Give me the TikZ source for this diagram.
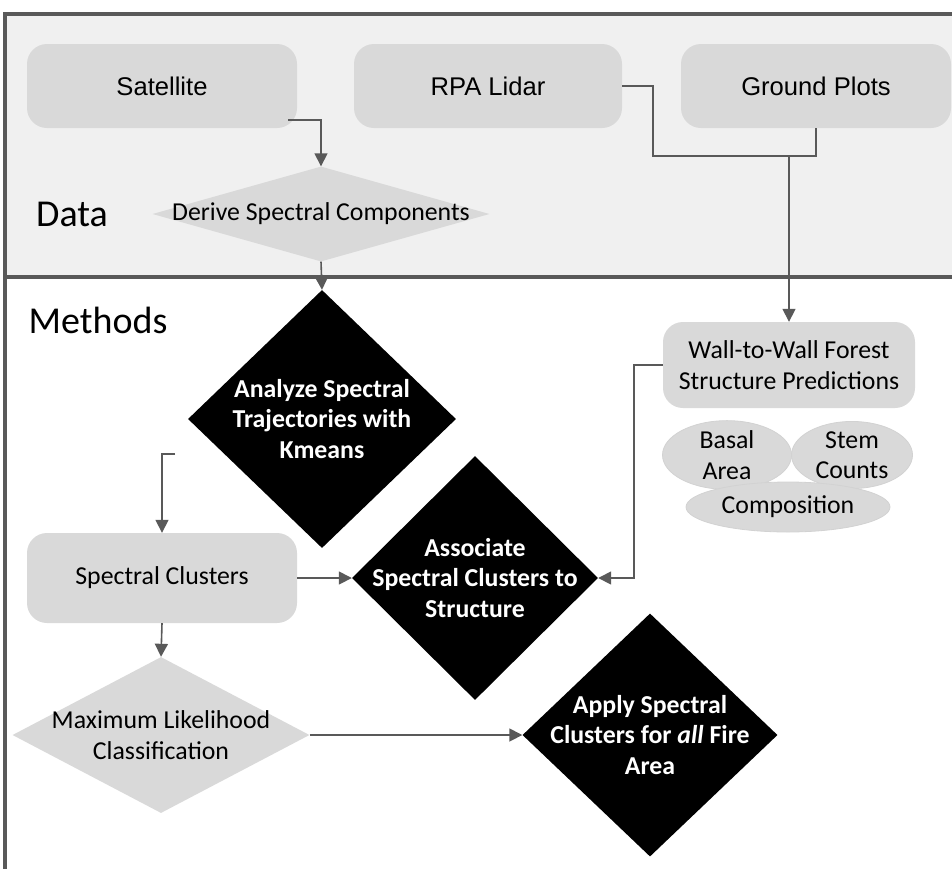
\documentclass[tikz,border=0pt]{standalone}
\usepackage{fontspec}
\setmainfont{Carlito}
\newfontfamily\arialfont{Liberation Sans}
\usetikzlibrary{shapes.geometric,arrows.meta}
\definecolor{framegray}{HTML}{595959}
\definecolor{boxgray}{HTML}{D9D9D9}
\definecolor{datagray}{HTML}{F0F0F0}
\newcommand{\flowfont}{\fontsize{25.8}{30.5}\selectfont}
\newcommand{\srcfont}{\arialfont\fontsize{25.6}{30}\selectfont}
\newcommand{\lanefont}{\fontsize{38}{44}\selectfont}

\begin{document}
\begin{tikzpicture}[x=1pt, y=-1pt,
  box/.style={rounded corners=20pt, fill=boxgray, align=center, inner sep=0pt, font=\flowfont},
  gdiamond/.style={diamond, fill=boxgray, inner sep=0pt},
  bdiamond/.style={diamond, fill=black, inner sep=0pt},
  dtext/.style={text=white, font=\flowfont\bfseries, align=center},
  blob/.style={ellipse, fill=boxgray, draw=gray!35, line width=0.8pt, inner sep=0pt, align=center, font=\flowfont},
  link/.style={draw=framegray, line width=1.6pt},
  flow/.style={link, -{Triangle[length=13pt,width=13pt]}}]
\useasboundingbox (0,0) rectangle (952,868);

% swim lanes
\fill[datagray] (5,14) rectangle (960,277);
\draw[framegray, line width=4pt] (5,880) -- (5,14) -- (960,14);
\draw[framegray, line width=4pt] (5,277) -- (960,277);
\node (data) at (72,214) {\lanefont Data};
\node (methods) at (98,320) {\lanefont Methods};

% data sources
\node (sat) [box, font=\srcfont, minimum width=270pt, minimum height=84pt] at (162,86) {Satellite};
\node (lidar) [box, font=\srcfont, minimum width=268pt, minimum height=84pt] at (488,86) {RPA Lidar};
\node (ground) [box, font=\srcfont, minimum width=270pt, minimum height=84pt] at (816,86) {Ground Plots};
\node (derive) [gdiamond, minimum width=337pt, minimum height=95pt,
  label={[font=\flowfont]center:Derive Spectral Components}] at (321,214) {};

% methods
\node (kmeans) [bdiamond, minimum width=268pt, minimum height=258pt,
  label={[dtext]center:Analyze Spectral\\Trajectories with\\Kmeans}] at (322,419) {};
\node (clus) [box, minimum width=270pt, minimum height=90pt] at (162,578) {Spectral Clusters};
\node (assoc) [bdiamond, minimum width=246pt, minimum height=244pt,
  label={[dtext]center:Associate\\Spectral Clusters to\\Structure}] at (475,578) {};
\node (wall) [box, minimum width=252pt, minimum height=86pt] at (789,365)
  {Wall-to-Wall Forest\\Structure Predictions};
\node (basal) [blob, minimum width=129pt, minimum height=55pt] at (727,455) {Basal\\Area};
\node (stem) [blob, minimum width=121pt, minimum height=55pt] at (852,455) {Stem\\Counts};
\node (comp) [blob, minimum width=204pt, minimum height=50pt] at (788,507) {Composition};
\node (mlc) [gdiamond, minimum width=297pt, minimum height=156pt,
  label={[font=\flowfont, align=center]center:Maximum Likelihood\\Classification}] at (161,735) {};
\node (apply) [bdiamond, minimum width=255pt, minimum height=243pt,
  label={[dtext]center:Apply Spectral\\Clusters for \textit{all} Fire\\Area}] at (650,735) {};

\coordinate (merge) at (789,156);
\coordinate (kstub) at (175,454);

% connectors
\draw[flow] ([xshift=-9pt,yshift=8pt]sat.south east) -| (derive.north);
\draw[link] (lidar.east) -- ++(31,0) |- (merge);
\draw[link] (ground.south) |- (merge);
\draw[flow] (merge) -- (wall.north);
\draw[flow] (derive.south) -- (kmeans.north);
\draw[flow] (kstub) -| (clus.north);
\draw[flow] (clus.east) -- (assoc.west);
\draw[flow] (wall.west) -- ++(-29,0) |- (assoc.east);
\draw[flow] (clus.south) -- (mlc.north);
\draw[flow] (mlc.east) -- (apply.west);
\end{tikzpicture}
\end{document}
